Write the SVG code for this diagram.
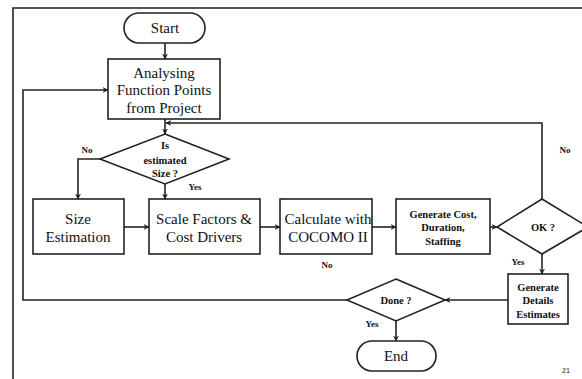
<svg xmlns="http://www.w3.org/2000/svg" width="582" height="379" viewBox="0 0 582 379">
<style>
.shape{fill:#fff;stroke:#222;stroke-width:1.6}
.line{fill:none;stroke:#222;stroke-width:1.6}
.t{font-family:"Liberation Serif","Times New Roman",serif;fill:#111;text-anchor:middle}
.big{font-size:15px}
.sm{font-size:10.5px;font-weight:bold}
.lb{font-size:9px;font-weight:bold}
</style>
<defs>
<marker id="ah" viewBox="0 0 10 10" refX="9" refY="5" markerWidth="6" markerHeight="6" markerUnits="userSpaceOnUse" orient="auto">
<path d="M0,0 L10,5 L0,10 L3,5 z" fill="#222"/>
</marker>
</defs>
<rect width="582" height="379" fill="#fff"/>
<path class="line" d="M13,379 V8 H582" stroke-width="1.8"/>
<g id="connectors">
<line class="line" x1="165" y1="43" x2="165" y2="59" marker-end="url(#ah)"/>
<path class="line" d="M165,119 V134" marker-end="url(#ah)"/>
<path class="line" d="M542,199 V123 H166" marker-end="url(#ah)"/>
<path class="line" d="M100,159 H78 V199" marker-end="url(#ah)"/>
<line class="line" x1="165" y1="184" x2="165" y2="199" marker-end="url(#ah)"/>
<line class="line" x1="124" y1="227" x2="149" y2="227" marker-end="url(#ah)"/>
<line class="line" x1="260" y1="227" x2="280" y2="227" marker-end="url(#ah)"/>
<line class="line" x1="372" y1="227" x2="396" y2="227" marker-end="url(#ah)"/>
<line class="line" x1="490" y1="227" x2="497" y2="227" marker-end="url(#ah)"/>
<line class="line" x1="542" y1="254" x2="542" y2="274" marker-end="url(#ah)"/>
<line class="line" x1="508" y1="300" x2="445" y2="300" marker-end="url(#ah)"/>
<path class="line" d="M347,300 H23 V90 H108" marker-end="url(#ah)"/>
<line class="line" x1="396" y1="321" x2="396" y2="341" marker-end="url(#ah)"/>
<text class="t lb" x="87" y="153">No</text>
<text class="t lb" x="195" y="190">Yes</text>
<text class="t lb" x="565" y="153">No</text>
<text class="t lb" x="327" y="268">No</text>
<text class="t lb" x="518" y="265">Yes</text>
<text class="t lb" x="372" y="327">Yes</text>
</g>
<g id="start">
<rect class="shape" x="124" y="13" width="81" height="30" rx="15"/>
<text class="t big" x="165" y="33">Start</text>
</g>
<g id="analysing">
<rect class="shape" x="108" y="59" width="112" height="60"/>
<text class="t big" x="164" y="78" font-size="16">Analysing</text>
<text class="t big" x="164" y="95" font-size="16">Function Points</text>
<text class="t big" x="164" y="113" font-size="16">from Project</text>
</g>
<g id="is-estimated">
<polygon class="shape" points="165,134 229,159 165,184 100,159"/>
<text class="t sm" x="165" y="149">Is</text>
<text class="t sm" x="165" y="164">estimated</text>
<text class="t sm" x="165" y="177">Size ?</text>
</g>
<g id="size-estimation">
<rect class="shape" x="33" y="199" width="91" height="55"/>
<text class="t big" x="78" y="224">Size</text>
<text class="t big" x="78" y="242">Estimation</text>
</g>
<g id="scale-factors">
<rect class="shape" x="149" y="199" width="111" height="55"/>
<text class="t big" x="204" y="224">Scale Factors &amp;</text>
<text class="t big" x="204" y="242">Cost Drivers</text>
</g>
<g id="calculate">
<rect class="shape" x="280" y="199" width="92" height="55"/>
<text class="t big" x="328" y="224">Calculate with</text>
<text class="t big" x="328" y="242">COCOMO II</text>
</g>
<g id="generate-cost">
<rect class="shape" x="396" y="199" width="94" height="55"/>
<text class="t sm" x="443" y="218">Generate Cost,</text>
<text class="t sm" x="443" y="231">Duration,</text>
<text class="t sm" x="443" y="245">Staffing</text>
</g>
<g id="ok">
<polygon class="shape" points="542,199 588,227 542,254 497,227"/>
<text class="t sm" x="543" y="231">OK ?</text>
</g>
<g id="generate-details">
<rect class="shape" x="508" y="274" width="60" height="50"/>
<text class="t sm" x="538" y="291">Generate</text>
<text class="t sm" x="538" y="304">Details</text>
<text class="t sm" x="538" y="318">Estimates</text>
</g>
<g id="done">
<polygon class="shape" points="396,279 445,300 396,321 347,300"/>
<text class="t sm" x="396" y="304">Done ?</text>
</g>
<g id="end">
<rect class="shape" x="357" y="341" width="79" height="30" rx="15"/>
<text class="t big" x="396" y="361">End</text>
</g>
<text x="566" y="373" font-family="Liberation Sans,Arial,sans-serif" font-size="7" font-weight="bold" fill="#666" text-anchor="middle">21</text>
</svg>
